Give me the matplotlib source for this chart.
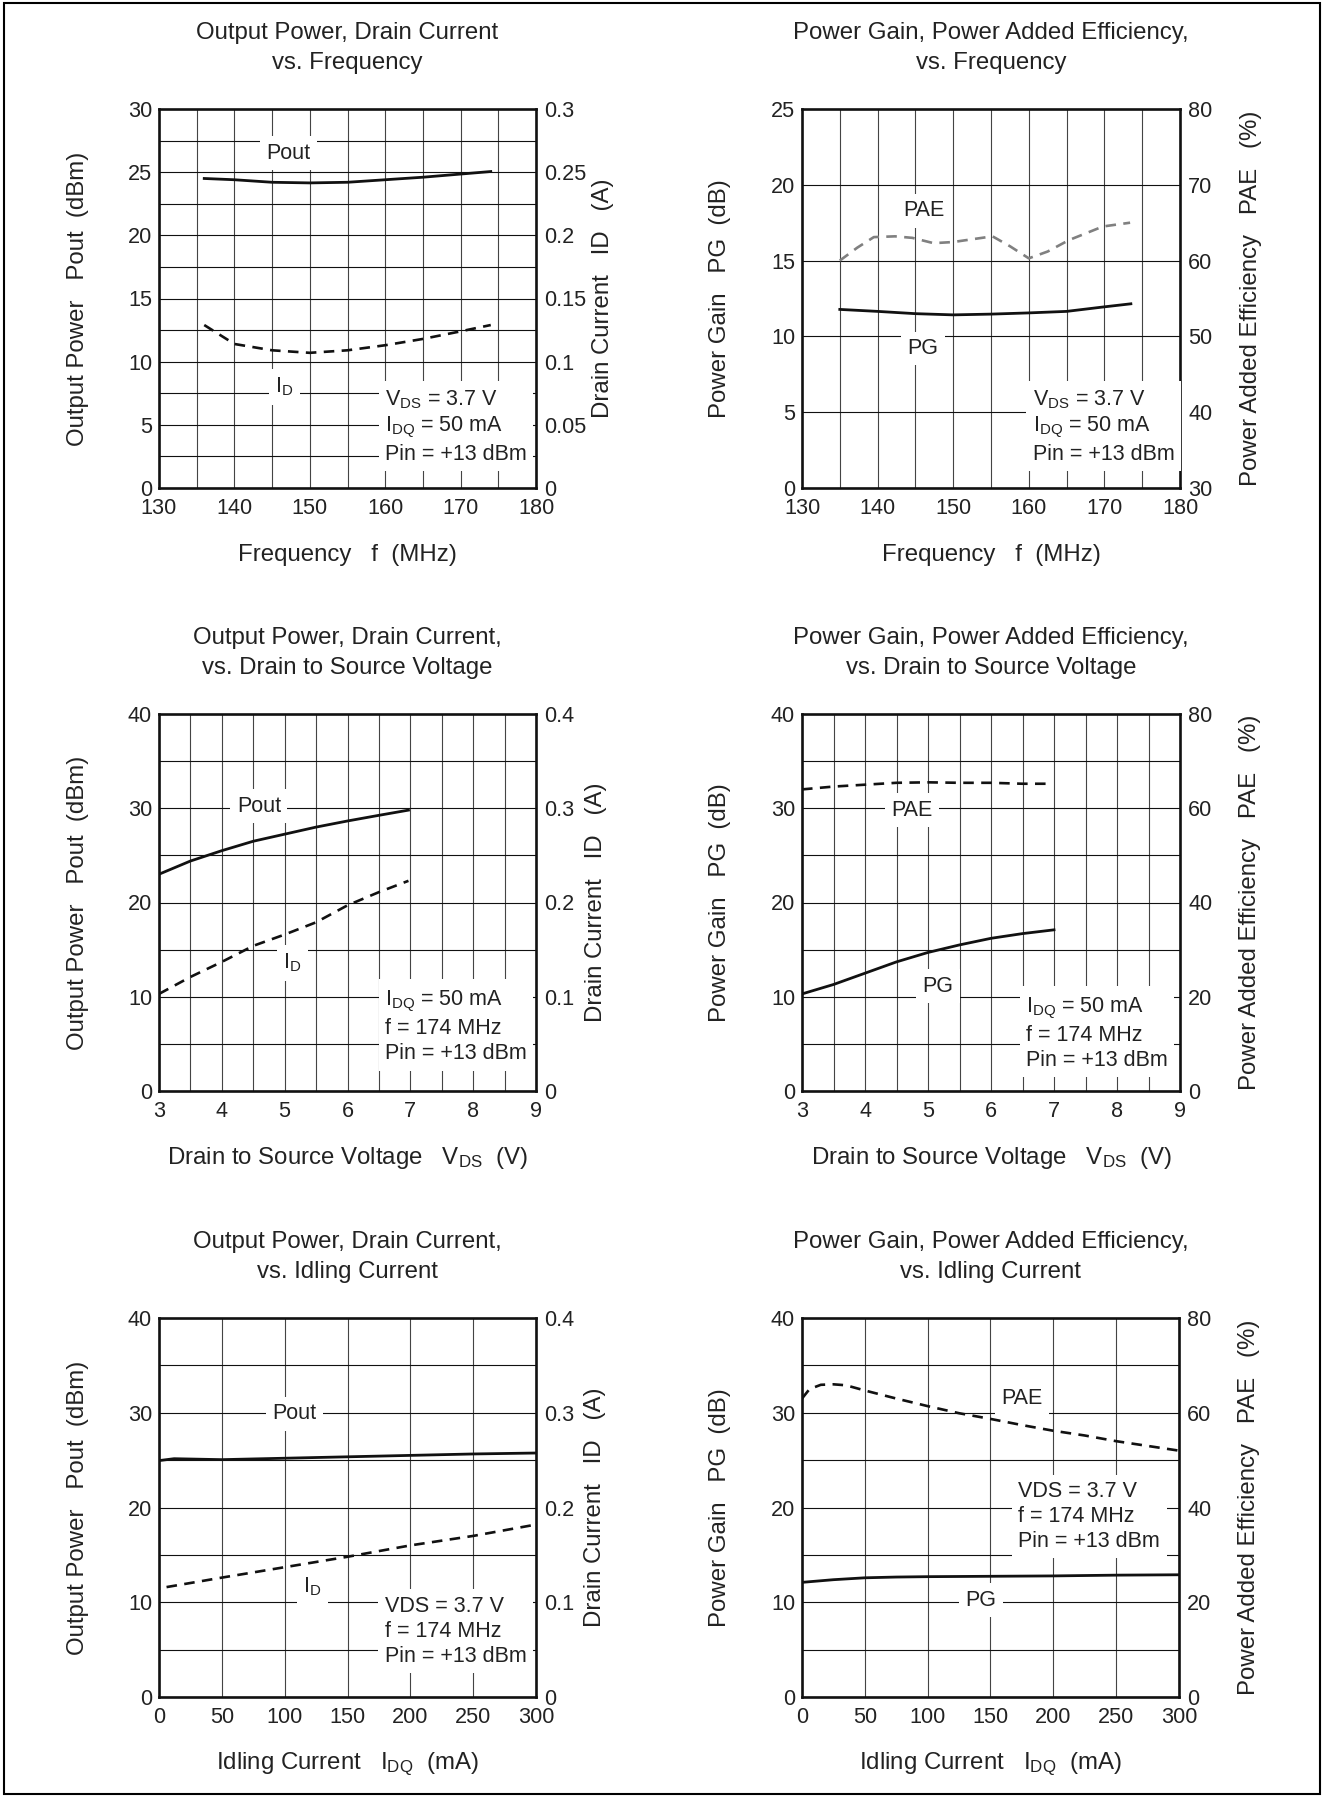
import matplotlib.pyplot as plt
from matplotlib.patches import Rectangle

plt.rcParams['font.family'] = ['Liberation Sans', 'DejaVu Sans']
plt.rcParams['mathtext.fontset'] = 'custom'
plt.rcParams['mathtext.rm'] = 'Liberation Sans'
plt.rcParams['mathtext.default'] = 'regular'

W, H = 1327, 1798
INK = '#111111'

# ---- Pout, ID vs frequency ----
f_out = [136, 140, 145, 150, 155, 160, 165, 170, 174]
pout_vs_f = [24.5, 24.4, 24.2, 24.15, 24.2, 24.4, 24.6, 24.85, 25.05]
id_vs_f = [0.129, 0.114, 0.109, 0.107, 0.109, 0.113, 0.118, 0.124, 0.129]

# ---- PG, PAE vs frequency ----
f_pg = [135, 140, 145, 150, 155, 160, 165, 170, 173.5]
pg_vs_f = [11.78, 11.65, 11.5, 11.42, 11.47, 11.55, 11.65, 11.95, 12.15]
f_pae = [135, 137.3, 139.5, 142.3, 144.6, 147.4, 150, 152.4, 155.2,
         157.5, 160, 162.5, 165.3, 169.8, 173.4]
pae_vs_f = [60.0, 61.7, 63.1, 63.2, 63.0, 62.3, 62.45, 62.8, 63.2,
            61.9, 60.3, 61.2, 62.7, 64.5, 65.0]

# ---- Pout, ID vs VDS ----
v_out = [3, 3.5, 4, 4.5, 5, 5.5, 6, 6.5, 6.97]
pout_vs_v = [23.0, 24.4, 25.5, 26.5, 27.25, 28.0, 28.65, 29.25, 29.8]
id_vs_v = [0.103, 0.121, 0.137, 0.154, 0.166, 0.179, 0.197, 0.211, 0.223]

# ---- PG, PAE vs VDS ----
v_pg = [3, 3.5, 4, 4.5, 5, 5.5, 6, 6.5, 7]
pg_vs_v = [10.3, 11.3, 12.5, 13.7, 14.7, 15.5, 16.2, 16.7, 17.1]
v_pae = [3, 3.5, 4, 4.5, 5, 5.5, 6, 6.5, 6.9]
pae_vs_v = [64.0, 64.6, 65.0, 65.4, 65.5, 65.4, 65.4, 65.2, 65.2]

# ---- Pout, ID vs IDQ ----
idq_out = [0, 12, 50, 100, 150, 200, 250, 300]
pout_vs_idq = [24.95, 25.15, 25.05, 25.2, 25.35, 25.5, 25.65, 25.75]
idq_id = [6, 50, 100, 150, 200, 250, 300]
id_vs_idq = [0.116, 0.126, 0.137, 0.148, 0.160, 0.170, 0.182]

# ---- PG, PAE vs IDQ ----
idq_pg = [0, 25, 50, 75, 100, 150, 200, 250, 300]
pg_vs_idq = [12.1, 12.38, 12.58, 12.66, 12.7, 12.74, 12.78, 12.86, 12.9]
idq_pae = [0, 6, 15, 25, 35, 50, 75, 100, 125, 150, 175, 200, 225, 250, 275, 300]
pae_vs_idq = [63.0, 65.0, 65.9, 66.0, 65.8, 64.7, 63.0, 61.4, 59.9, 58.7,
              57.4, 56.2, 55.2, 54.0, 53.0, 52.0]

fig = plt.figure(figsize=(W / 100, H / 100), dpi=100)
fig.patches.append(Rectangle((4 / W, 1 - 1794 / H), 1316 / W, 1791 / H,
                             transform=fig.transFigure, fill=False,
                             lw=1.5, ec='black'))


def frange(a, b, step):
    n = int(round((b - a) / step))
    return [a + i * step for i in range(n + 1)]


def panel(box, xlim, xmajor, xstep, ylim, ymajor, ystep, rlim, rticks, rlabels):
    left, top, right, bottom = box
    ax = fig.add_axes([left / W, 1 - bottom / H, (right - left) / W, (bottom - top) / H])
    ax.set_xlim(xlim)
    ax.set_ylim(ylim)
    ax.set_xticks(xmajor)
    ax.set_xticks(frange(xlim[0], xlim[1], xstep), minor=True)
    ax.set_yticks(ymajor)
    ax.set_yticks(frange(ylim[0], ylim[1], ystep), minor=True)
    ax.grid(which='both', axis='x', color='#444444', lw=0.8)
    ax.grid(which='both', axis='y', color=INK, lw=0.8)
    ax.tick_params(which='both', length=0, labelsize=15.6, colors='#222222')
    ax.tick_params(axis='x', pad=7)
    ax.tick_params(axis='y', pad=5)
    for sp in ax.spines.values():
        sp.set_linewidth(1.9)
        sp.set_color(INK)
    ax2 = ax.twinx()
    ax2.set_ylim(rlim)
    ax2.set_yticks(rticks, rlabels)
    ax2.tick_params(length=0, labelsize=15.6, pad=6, colors='#222222')
    for sp in ax2.spines.values():
        sp.set_visible(False)
    return ax, ax2


def titles(ax, line1, line2):
    for s, off in ((line1, 76), (line2, 46)):
        ax.annotate(s, (0.5, 1), xycoords='axes fraction', xytext=(0, off),
                    textcoords='offset pixels', ha='center', va='center',
                    fontsize=17.3, color='#222222')


def labels(ax, xlab, ylab, rlab, loff, roff):
    kw = dict(xycoords='axes fraction', textcoords='offset pixels',
              ha='center', va='center', fontsize=17.3, color='#222222')
    ax.annotate(xlab, (0.5, 0), xytext=(0, -67), **kw)
    ax.annotate(ylab, (0, 0.5), xytext=(-loff, 0), rotation=90, **kw)
    ax.annotate(rlab, (1, 0.5), xytext=(roff, 0), rotation=90, **kw)


def tag(ax, ax2, x, y, s, ha='center', va='center'):
    ax2.text(x, y, s, transform=ax.transData, fontsize=15.5, ha=ha, va=va,
             color='#222222', zorder=6, linespacing=1.25,
             bbox=dict(boxstyle='square,pad=0.3', fc='white', ec='none'))


solid = dict(color=INK, lw=2.0, zorder=4)
dashed = dict(color=INK, lw=1.9, ls=(0, (4, 2.8)), zorder=4)

# --- row 1 left ---
ax, ax2 = panel((159, 109, 536, 488), (130, 180), range(130, 181, 10), 5,
                (0, 30), range(0, 31, 5), 2.5, (0, 0.3),
                [0, 0.05, 0.1, 0.15, 0.2, 0.25, 0.3],
                ['0', '0.05', '0.1', '0.15', '0.2', '0.25', '0.3'])
ax.plot(f_out, pout_vs_f, **solid)
ax2.plot(f_out, id_vs_f, **dashed)
titles(ax, 'Output Power, Drain Current', 'vs. Frequency')
labels(ax, 'Frequency   f  (MHz)', 'Output Power   Pout  (dBm)',
       'Drain Current   ID   (A)', 81, 67)
tag(ax, ax2, 147.2, 26.5, 'Pout')
tag(ax, ax2, 146.6, 8.0, 'I$_{D}$')
tag(ax, ax2, 160.0, 7.9, 'V$_{DS}$ = 3.7 V\nI$_{DQ}$ = 50 mA\nPin = +13 dBm',
    ha='left', va='top')

# --- row 1 right ---
ax, ax2 = panel((802, 109, 1180, 488), (130, 180), range(130, 181, 10), 5,
                (0, 25), range(0, 26, 5), 5, (30, 80),
                [30, 40, 50, 60, 70, 80], ['30', '40', '50', '60', '70', '80'])
ax.plot(f_pg, pg_vs_f, **solid)
ax2.plot(f_pae, pae_vs_f, color='#808080', lw=1.9, ls=(0, (4, 2.8)), zorder=4)
titles(ax, 'Power Gain, Power Added Efficiency,', 'vs. Frequency')
labels(ax, 'Frequency   f  (MHz)', 'Power Gain   PG  (dB)',
       'Power Added Efficiency   PAE   (%)', 82, 71)
tag(ax, ax2, 146.1, 18.3, 'PAE')
tag(ax, ax2, 146.0, 9.2, 'PG')
tag(ax, ax2, 160.5, 6.6, 'V$_{DS}$ = 3.7 V\nI$_{DQ}$ = 50 mA\nPin = +13 dBm',
    ha='left', va='top')

# --- row 2 left ---
ax, ax2 = panel((159, 714, 536, 1091), (3, 9), range(3, 10), 0.5,
                (0, 40), range(0, 41, 10), 5, (0, 0.4),
                [0, 0.1, 0.2, 0.3, 0.4], ['0', '0.1', '0.2', '0.3', '0.4'])
ax.plot(v_out, pout_vs_v, **solid)
ax2.plot(v_out, id_vs_v, **dashed)
titles(ax, 'Output Power, Drain Current,', 'vs. Drain to Source Voltage')
labels(ax, 'Drain to Source Voltage   V$_{DS}$  (V)', 'Output Power   Pout  (dBm)',
       'Drain Current   ID   (A)', 81, 60)
tag(ax, ax2, 4.59, 30.2, 'Pout')
tag(ax, ax2, 5.12, 13.6, 'I$_{D}$')
tag(ax, ax2, 6.6, 10.8, 'I$_{DQ}$ = 50 mA\nf = 174 MHz\nPin = +13 dBm',
    ha='left', va='top')

# --- row 2 right ---
ax, ax2 = panel((802, 714, 1180, 1091), (3, 9), range(3, 10), 0.5,
                (0, 40), range(0, 41, 10), 5, (0, 80),
                [0, 20, 40, 60, 80], ['0', '20', '40', '60', '80'])
ax.plot(v_pg, pg_vs_v, **solid)
ax2.plot(v_pae, pae_vs_v, **dashed)
titles(ax, 'Power Gain, Power Added Efficiency,', 'vs. Drain to Source Voltage')
labels(ax, 'Drain to Source Voltage   V$_{DS}$  (V)', 'Power Gain   PG  (dB)',
       'Power Added Efficiency   PAE   (%)', 82, 70)
tag(ax, ax2, 4.74, 29.8, 'PAE')
tag(ax, ax2, 5.16, 11.1, 'PG')
tag(ax, ax2, 6.56, 10.1, 'I$_{DQ}$ = 50 mA\nf = 174 MHz\nPin = +13 dBm',
    ha='left', va='top')

# --- row 3 left ---
ax, ax2 = panel((159, 1318, 536, 1697), (0, 300), range(0, 301, 50), 50,
                (0, 40), range(0, 41, 10), 5, (0, 0.4),
                [0, 0.1, 0.2, 0.3, 0.4], ['0', '0.1', '0.2', '0.3', '0.4'])
ax.plot(idq_out, pout_vs_idq, **solid)
ax2.plot(idq_id, id_vs_idq, **dashed)
titles(ax, 'Output Power, Drain Current,', 'vs. Idling Current')
labels(ax, 'Idling Current   I$_{DQ}$  (mA)', 'Output Power   Pout  (dBm)',
       'Drain Current   ID   (A)', 81, 59)
tag(ax, ax2, 107.7, 29.9, 'Pout')
tag(ax, ax2, 122, 11.6, 'I$_{D}$')
tag(ax, ax2, 179.5, 10.7, 'VDS = 3.7 V\nf = 174 MHz\nPin = +13 dBm',
    ha='left', va='top')

# --- row 3 right ---
ax, ax2 = panel((802, 1318, 1179, 1697), (0, 300), range(0, 301, 50), 50,
                (0, 40), range(0, 41, 10), 5, (0, 80),
                [0, 20, 40, 60, 80], ['0', '20', '40', '60', '80'])
ax.plot(idq_pg, pg_vs_idq, **solid)
ax2.plot(idq_pae, pae_vs_idq, **dashed)
titles(ax, 'Power Gain, Power Added Efficiency,', 'vs. Idling Current')
labels(ax, 'Idling Current   I$_{DQ}$  (mA)', 'Power Gain   PG  (dB)',
       'Power Added Efficiency   PAE   (%)', 82, 70)
tag(ax, ax2, 175, 31.5, 'PAE')
tag(ax, ax2, 142.6, 10.2, 'PG')
tag(ax, ax2, 172.2, 22.8, 'VDS = 3.7 V\nf = 174 MHz\nPin = +13 dBm',
    ha='left', va='top')

fig.savefig('out.png', dpi=100)
